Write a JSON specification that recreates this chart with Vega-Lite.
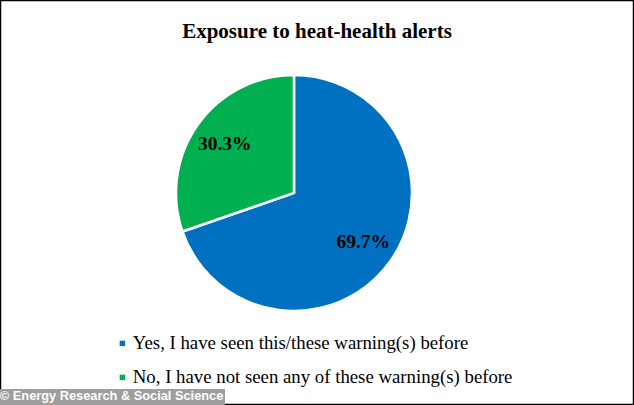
{
  "$schema": "https://vega.github.io/schema/vega-lite/v6.json",
  "width": 634,
  "height": 405,
  "autosize": {"type": "none"},
  "padding": 0,
  "background": "white",
  "config": {"view": {"stroke": null}},
  "title": {
    "text": "Exposure to heat-health alerts",
    "font": "Liberation Serif",
    "fontSize": 21,
    "fontWeight": "bold",
    "color": "black",
    "anchor": "middle",
    "offset": -43
  },
  "layer": [
    {
      "data": {"values": [{"frame": "border"}]},
      "mark": {"type": "rect", "fill": "white", "fillOpacity": 0, "stroke": "black", "strokeWidth": 2.5},
      "encoding": {}
    },
    {
      "data": {
        "values": [
          {"answer": "Yes, I have seen this/these warning(s) before", "pct": 69.7, "label": "69.7%", "order": 1},
          {"answer": "No, I have not seen any of these warning(s) before", "pct": 30.3, "label": "30.3%", "order": 2}
        ]
      },
      "encoding": {
        "theta": {"field": "pct", "type": "quantitative", "stack": true},
        "order": {"field": "order", "type": "quantitative"}
      },
      "layer": [
        {
          "mark": {"type": "arc", "outerRadius": 118, "stroke": "white", "strokeWidth": 2.5, "x": {"expr": "width*0.4637"}, "y": {"expr": "height*0.4765"}},
          "encoding": {
            "color": {
              "field": "answer",
              "type": "nominal",
              "sort": ["Yes, I have seen this/these warning(s) before", "No, I have not seen any of these warning(s) before"],
              "scale": {"domain": ["Yes, I have seen this/these warning(s) before", "No, I have not seen any of these warning(s) before"], "range": ["#0070C0", "#00B050"]},
              "legend": {
                "title": null,
                "orient": "none",
                "legendX": 113,
                "legendY": 334,
                "direction": "vertical",
                "symbolType": "square",
                "symbolSize": 30,
                "symbolStrokeWidth": 0,
                "labelFont": "Liberation Serif",
                "labelFontSize": 18.8,
                "labelColor": "black",
                "labelLimit": 500,
                "rowPadding": 14,
                "labelOffset": 1
              }
            }
          }
        },
        {
          "mark": {"type": "text", "radius": 85, "font": "Liberation Serif", "fontSize": 19.5, "fontWeight": "bold", "color": "black", "x": {"expr": "width*0.4637"}, "y": {"expr": "height*0.4765"}},
          "encoding": {"text": {"field": "label"}}
        }
      ]
    },
    {
      "data": {"values": [{"source": "© Energy Research & Social Science"}]},
      "mark": {"type": "point", "opacity": 0},
      "encoding": {
        "shape": {
          "field": "source",
          "type": "nominal",
          "legend": {
            "title": null,
            "orient": "none",
            "legendX": 0,
            "legendY": 389,
            "symbolSize": 0,
            "symbolOpacity": 0,
            "labelOffset": -14,
            "labelFont": "Liberation Sans",
            "labelFontSize": 12.8,
            "labelFontWeight": "bold",
            "labelColor": "white",
            "fillColor": "#9e9e9e",
            "padding": 1,
            "labelLimit": 300
          }
        }
      }
    }
  ]
}
